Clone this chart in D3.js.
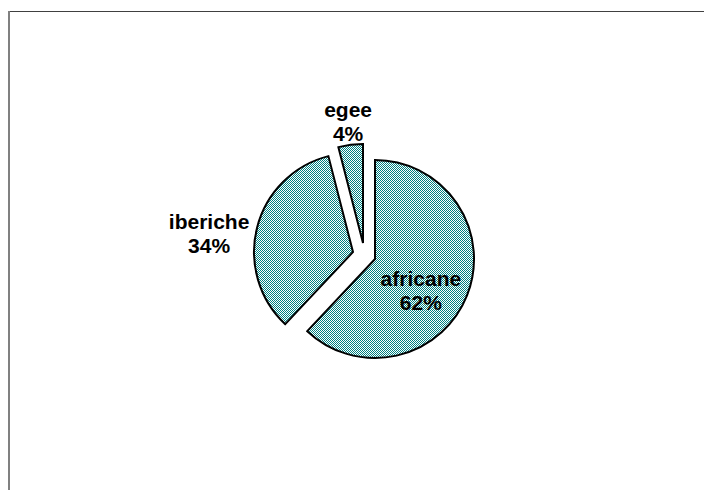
<!DOCTYPE html>
<html>
<head>
<meta charset="utf-8">
<script src="https://cdn.jsdelivr.net/npm/d3@7/dist/d3.min.js"></script>
<style>
html,body{margin:0;padding:0;background:#fff;}
svg{display:block;}
</style>
</head>
<body>
<script>
// ---- data ----
const categories = ["africane", "iberiche", "egee"];
const values = [62, 34, 4];
const percentLabels = ["62%", "34%", "4%"];

// ---- layout ----
const W = 704, H = 490;
const cx = 364, cy = 255, R = 99, explode = 11.7;
// label placement relative to each slice's exploded apex (angle in deg clockwise from top, distance px)
const labelAngle = [125, 277, 353];
const labelDist = [56, 145, 122];

// checkerboard texture (1px teal / white)
const cv = document.createElement("canvas");
cv.width = W; cv.height = H;
const ctx = cv.getContext("2d");
const img = ctx.createImageData(W, H);
for (let y = 0; y < H; y++) {
  for (let x = 0; x < W; x++) {
    const k = (y * W + x) * 4;
    const teal = ((x + y) % 2) === 0;
    img.data[k] = teal ? 0 : 255;
    img.data[k + 1] = teal ? 128 : 255;
    img.data[k + 2] = teal ? 128 : 255;
    img.data[k + 3] = 255;
  }
}
ctx.putImageData(img, 0, 0);
const texURL = cv.toDataURL("image/png");

const svg = d3.select("body").append("svg").attr("width", W).attr("height", H);
const defs = svg.append("defs");

svg.append("rect").attr("width", W).attr("height", H).attr("fill", "#fff");

// frame (clipped at right and bottom)
svg.append("line").attr("x1", 9).attr("x2", W).attr("y1", 11.5).attr("y2", 11.5)
  .attr("stroke", "#404040").attr("stroke-width", 1.2);
svg.append("line").attr("x1", 9).attr("x2", 9).attr("y1", 11).attr("y2", H)
  .attr("stroke", "#808080").attr("stroke-width", 2);

const pie = d3.pie().sort(null).value(d => d).startAngle(0).endAngle(2 * Math.PI);
const arcs = pie(values);
const arc = d3.arc().innerRadius(0).outerRadius(R);

arcs.forEach((a, i) => {
  const mid = (a.startAngle + a.endAngle) / 2;
  const ox = Math.round(Math.sin(mid) * explode), oy = Math.round(-Math.cos(mid) * explode);
  const tx = cx + ox, ty = cy + oy;
  const id = "clip" + i;
  defs.append("clipPath").attr("id", id)
    .append("path").attr("d", arc(a)).attr("transform", `translate(${tx},${ty})`);
  svg.append("image")
    .attr("href", texURL)
    .attr("x", 0).attr("y", 0).attr("width", W).attr("height", H)
    .attr("style", "image-rendering:pixelated")
    .attr("clip-path", `url(#${id})`);
  svg.append("path")
    .attr("d", arc(a))
    .attr("transform", `translate(${tx},${ty})`)
    .attr("fill", "none")
    .attr("stroke", "#000")
    .attr("stroke-width", 2)
    .attr("stroke-linejoin", "miter");

  const la = labelAngle[i] * Math.PI / 180;
  const lx = tx + Math.sin(la) * labelDist[i];
  const ly = ty - Math.cos(la) * labelDist[i];
  const t = svg.append("text")
    .attr("x", lx).attr("y", ly)
    .attr("text-anchor", "middle")
    .attr("font-family", "Liberation Sans, Arial, sans-serif")
    .attr("font-weight", "bold")
    .attr("font-size", 21)
    .attr("fill", "#000");
  t.append("tspan").attr("x", lx).attr("dy", -5).text(categories[i]);
  t.append("tspan").attr("x", lx).attr("dy", 24).text(percentLabels[i]);
});
</script>
</body>
</html>
